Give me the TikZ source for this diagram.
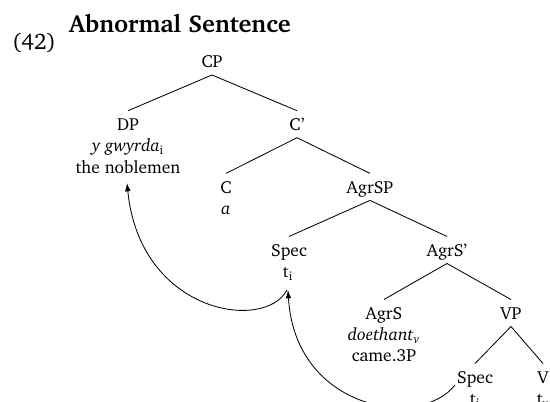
\documentclass[tikz,border=0pt]{standalone}
\usepackage[T1]{fontenc}
\usepackage{charter}
\usetikzlibrary{arrows.meta}
\begin{document}
\begin{tikzpicture}[x=0.6pt,y=-0.6pt,
  lab/.style={anchor=base,inner sep=0pt,font=\fontsize{10.5}{12.6}\selectfont},
  branch/.style={line width=0.5pt},
  move/.style={line width=0.5pt,-{Latex[length=5pt,width=3.4pt]}}]
\useasboundingbox (0,0) rectangle (550,402);

% heading
\node[lab,font=\fontsize{13.5}{16}\selectfont] (num) at (34,50) {(42)};
\node[lab,font=\fontsize{14.7}{18}\selectfont\bfseries] (title) at (180,33) {Abnormal Sentence};

% tree labels
\node[lab] (cp)    at (212,68)    {CP};
\node[lab] (dp)    at (128,130.7) {DP};
\node[lab] (dpa)   at (128,152)   {\textit{y gwyrda}\textsubscript{i}};
\node[lab] (dpb)   at (128,173)   {the noblemen};
\node[lab] (cbar)  at (297,130.7) {C'};
\node[lab] (c)     at (226,193.4) {C};
\node[lab] (ca)    at (226,214.5) {\textit{a}};
\node[lab] (agrsp) at (370,193.4) {AgrSP};
\node[lab] (spec)  at (289,256.5) {Spec};
\node[lab] (speca) at (288,277.5) {t\textsubscript{i}};
\node[lab] (agrsb) at (447,256.5) {AgrS'};
\node[lab] (agrs)  at (384,319.5) {AgrS};
\node[lab] (agrsa) at (384,340.5) {\textit{doethant}\textsubscript{\textit{v}}};
\node[lab] (agrsc) at (384,361.5) {came.3P};
\node[lab] (vp)    at (511,319.5) {VP};
\node[lab] (vspec) at (475,383.5) {Spec};
\node[lab] (vspeca)at (475,404.5) {t\textsubscript{i}};
\node[lab] (v)     at (543,383.5) {V};
\node[lab] (va)    at (543,404.5) {t\textsubscript{\textit{v}}};

% branches
\foreach \p/\c in {cp/dp,cp/cbar,cbar/c,cbar/agrsp,agrsp/spec,agrsp/agrsb,
                   agrsb/agrs,agrsb/vp,vp/vspec,vp/v}
  \draw[branch] ([yshift=-4.2pt]\p.base) -- ([yshift=12pt]\c.base);

% movement arrows
\coordinate (m1) at (287,290);
\coordinate (m2) at (455,385);
\coordinate (dpfoot) at (127,183);
\coordinate (specfoot) at (288,290);
\draw[move] (m1) .. controls (265,332) and (140,314) .. (dpfoot);
\draw[move] (m2) .. controls (420,430) and (295,410) .. (specfoot);
\end{tikzpicture}
\end{document}
